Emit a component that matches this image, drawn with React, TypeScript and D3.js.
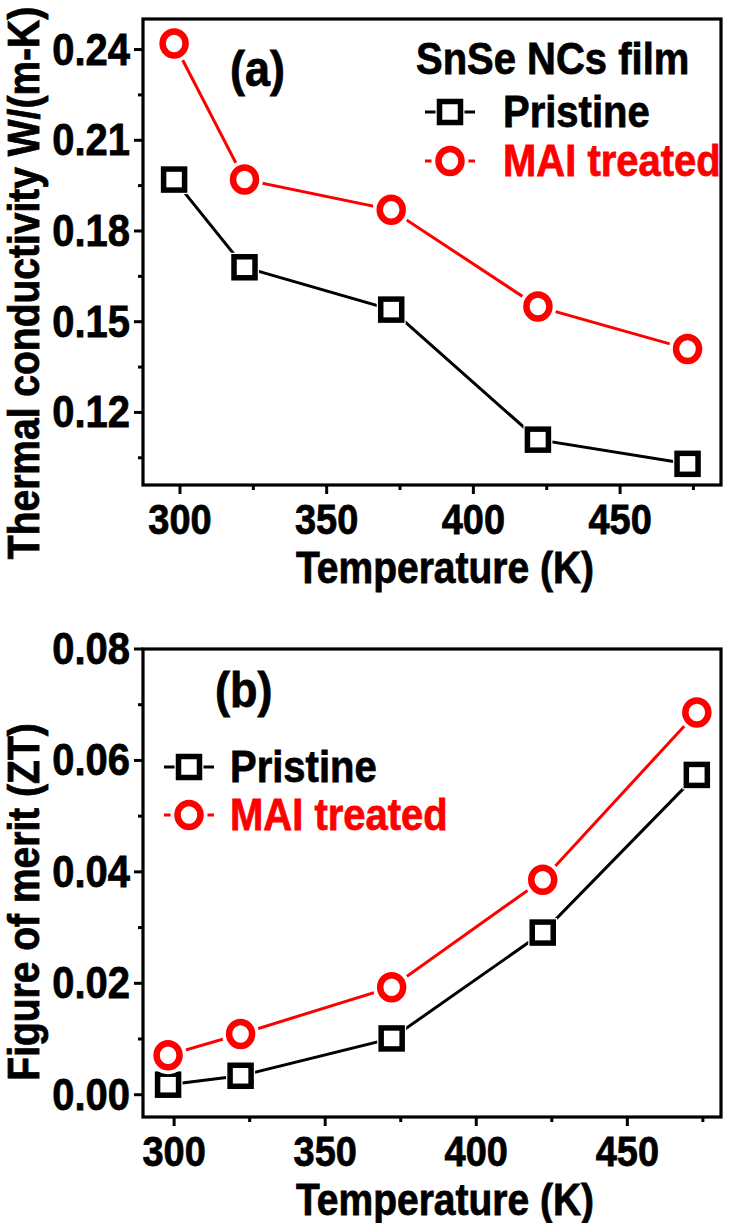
import React from "react";
import * as d3 from "d3";

// measured temperatures (K)
const temps = [298, 322, 372, 422, 473];

// (a) thermal conductivity W/(m-K)
const kPristine = [0.197, 0.168, 0.154, 0.111, 0.103];
const kMai = [0.242, 0.197, 0.187, 0.155, 0.141];

// (b) figure of merit ZT
const ztPristine = [0.0018, 0.0034, 0.0101, 0.0291, 0.0574];
const ztMai = [0.0071, 0.0109, 0.0193, 0.0386, 0.0686];

const xTicks = [300, 350, 400, 450];
const kTicks = [0.12, 0.15, 0.18, 0.21, 0.24];
const ztTicks = [0.0, 0.02, 0.04, 0.06, 0.08];

const RED = "#ff0000";
const FONT = "'Liberation Sans', Arial, sans-serif";
const STRETCH = 1.12; // the source raster text is a bit taller than plain Arial

const W = 730;
const H = 1223;

type Series = { values: number[]; color: string; marker: "square" | "circle"; label: string };

// text stretched vertically around its baseline
function Txt({ x, y, size, anchor = "start", fill = "#000", rotate = 0, children }: any) {
    return (
        <text
            transform={`translate(${x},${y}) rotate(${rotate}) scale(1,${STRETCH})`}
            fontSize={size}
            textAnchor={anchor}
            fill={fill}
            stroke={fill}
            strokeWidth={0.7}
        >
            {children}
        </text>
    );
}

function Marker({ x, y, kind, color }: { x: number; y: number; kind: string; color: string }) {
    if (kind === "square") {
        const s = 21;
        return (
            <g>
                <rect x={x - s / 2} y={y - s / 2} width={s} height={s} fill="#fff" stroke="#fff" strokeWidth={8} />
                <rect x={x - s / 2} y={y - s / 2} width={s} height={s} fill="#fff" stroke={color} strokeWidth={5.5} />
            </g>
        );
    }
    return (
        <g>
            <ellipse cx={x} cy={y} rx={11.5} ry={12} fill="#fff" stroke="#fff" strokeWidth={14} />
            <ellipse cx={x} cy={y} rx={11.5} ry={12} fill="#fff" stroke={color} strokeWidth={6.5} />
        </g>
    );
}

function minorTicks(major: number[], lo: number, hi: number) {
    const step = major[1] - major[0];
    const out: number[] = [];
    for (let v = major[0] - step / 2; v <= hi + 1e-9; v += step) {
        if (v >= lo - 1e-9) out.push(+v.toFixed(6));
    }
    return out;
}

interface PanelProps {
    top: number;
    bottom: number;
    xDomain: [number, number];
    yDomain: [number, number];
    yTicks: number[];
    yFormat: (v: number) => string;
    yTitle: string;
    yTitleY: number;
    series: Series[];
    tag: string;
    tagPos: [number, number];
    legendTitle?: string;
    legendTitleY?: number;
    legendX: number;
    legendTextX: number;
    legendRows: number[];
}

function Panel(p: PanelProps) {
    const left = 143;
    const right = 721;
    const x = d3.scaleLinear().domain(p.xDomain).range([left, right]);
    const y = d3.scaleLinear().domain(p.yDomain).range([p.bottom, p.top]);
    const line = d3
        .line<number>()
        .x((_, i) => x(temps[i]))
        .y((d) => y(d));

    const xMinor = minorTicks(xTicks, p.xDomain[0], p.xDomain[1]);
    const yMinor = minorTicks(p.yTicks, p.yDomain[0], p.yDomain[1]);

    return (
        <g fontFamily={FONT} fontWeight="bold">
            {/* data lines */}
            {p.series.map((s) => (
                <path key={s.label + "l"} d={line(s.values) || ""} fill="none" stroke={s.color} strokeWidth={3} />
            ))}
            {p.series.map((s) =>
                s.values.map((v, i) => (
                    <Marker key={s.label + i} x={x(temps[i])} y={y(v)} kind={s.marker} color={s.color} />
                ))
            )}

            {/* frame */}
            <rect x={left} y={p.top} width={right - left} height={p.bottom - p.top} fill="none" stroke="#000" strokeWidth={3.2} />

            {/* x ticks */}
            {xTicks.map((t) => (
                <g key={"xt" + t}>
                    <line x1={x(t)} x2={x(t)} y1={p.bottom} y2={p.bottom + 9} stroke="#000" strokeWidth={3} />
                    <Txt x={x(t)} y={p.bottom + 49} size={38} anchor="middle">
                        {t}
                    </Txt>
                </g>
            ))}
            {xMinor.map((t) => (
                <line key={"xm" + t} x1={x(t)} x2={x(t)} y1={p.bottom} y2={p.bottom + 5} stroke="#000" strokeWidth={3} />
            ))}

            {/* y ticks */}
            {p.yTicks.map((t) => (
                <g key={"yt" + t}>
                    <line x1={left - 9} x2={left} y1={y(t)} y2={y(t)} stroke="#000" strokeWidth={3} />
                    <Txt x={left - 13} y={y(t) + 15} size={40} anchor="end">
                        {p.yFormat(t)}
                    </Txt>
                </g>
            ))}
            {yMinor.map((t) => (
                <line key={"ym" + t} x1={left - 5} x2={left} y1={y(t)} y2={y(t)} stroke="#000" strokeWidth={3} />
            ))}

            {/* axis titles */}
            <Txt x={445} y={p.bottom + 98} size={39} anchor="middle">
                Temperature (K)
            </Txt>
            <Txt x={39} y={p.yTitleY} size={39} anchor="middle" rotate={-90}>
                {p.yTitle}
            </Txt>

            {/* panel tag */}
            <Txt x={p.tagPos[0]} y={p.tagPos[1]} size={45}>
                {p.tag}
            </Txt>

            {/* legend */}
            {p.legendTitle && (
                <Txt x={416} y={p.legendTitleY} size={40}>
                    {p.legendTitle}
                </Txt>
            )}
            {p.series.map((s, i) => {
                const cy = p.legendRows[i];
                const cx = p.legendX;
                return (
                    <g key={"lg" + s.label}>
                        <line x1={cx - 25} x2={cx + 25} y1={cy} y2={cy} stroke={s.color} strokeWidth={3} />
                        <Marker x={cx} y={cy} kind={s.marker} color={s.color} />
                        <Txt x={p.legendTextX} y={cy + 15} size={40} fill={s.color}>
                            {s.label}
                        </Txt>
                    </g>
                );
            })}
        </g>
    );
}

export default function App() {
    const fmt2 = d3.format(".2f");
    return (
        <svg width={W} height={H} style={{ position: "absolute", left: 0, top: 0, background: "#fff" }}>
            <rect width={W} height={H} fill="#fff" />
            <Panel
                top={19}
                bottom={485}
                xDomain={[287.4, 484.4]}
                yDomain={[0.096, 0.2501]}
                yTicks={kTicks}
                yFormat={fmt2}
                yTitle="Thermal conductivity W/(m-K)"
                yTitleY={283}
                series={[
                    { values: kPristine, color: "#000", marker: "square", label: "Pristine" },
                    { values: kMai, color: RED, marker: "circle", label: "MAI treated" },
                ]}
                tag="(a)"
                tagPos={[230, 86]}
                legendTitle="SnSe NCs film"
                legendTitleY={74}
                legendX={450}
                legendTextX={503}
                legendRows={[112, 161]}
            />
            <Panel
                top={649}
                bottom={1117}
                xDomain={[289.7, 481]}
                yDomain={[-0.004, 0.08]}
                yTicks={ztTicks}
                yFormat={fmt2}
                yTitle="Figure of merit (ZT)"
                yTitleY={902}
                series={[
                    { values: ztPristine, color: "#000", marker: "square", label: "Pristine" },
                    { values: ztMai, color: RED, marker: "circle", label: "MAI treated" },
                ]}
                tag="(b)"
                tagPos={[215, 707]}
                legendX={189}
                legendTextX={230}
                legendRows={[767, 815]}
            />
        </svg>
    );
}
